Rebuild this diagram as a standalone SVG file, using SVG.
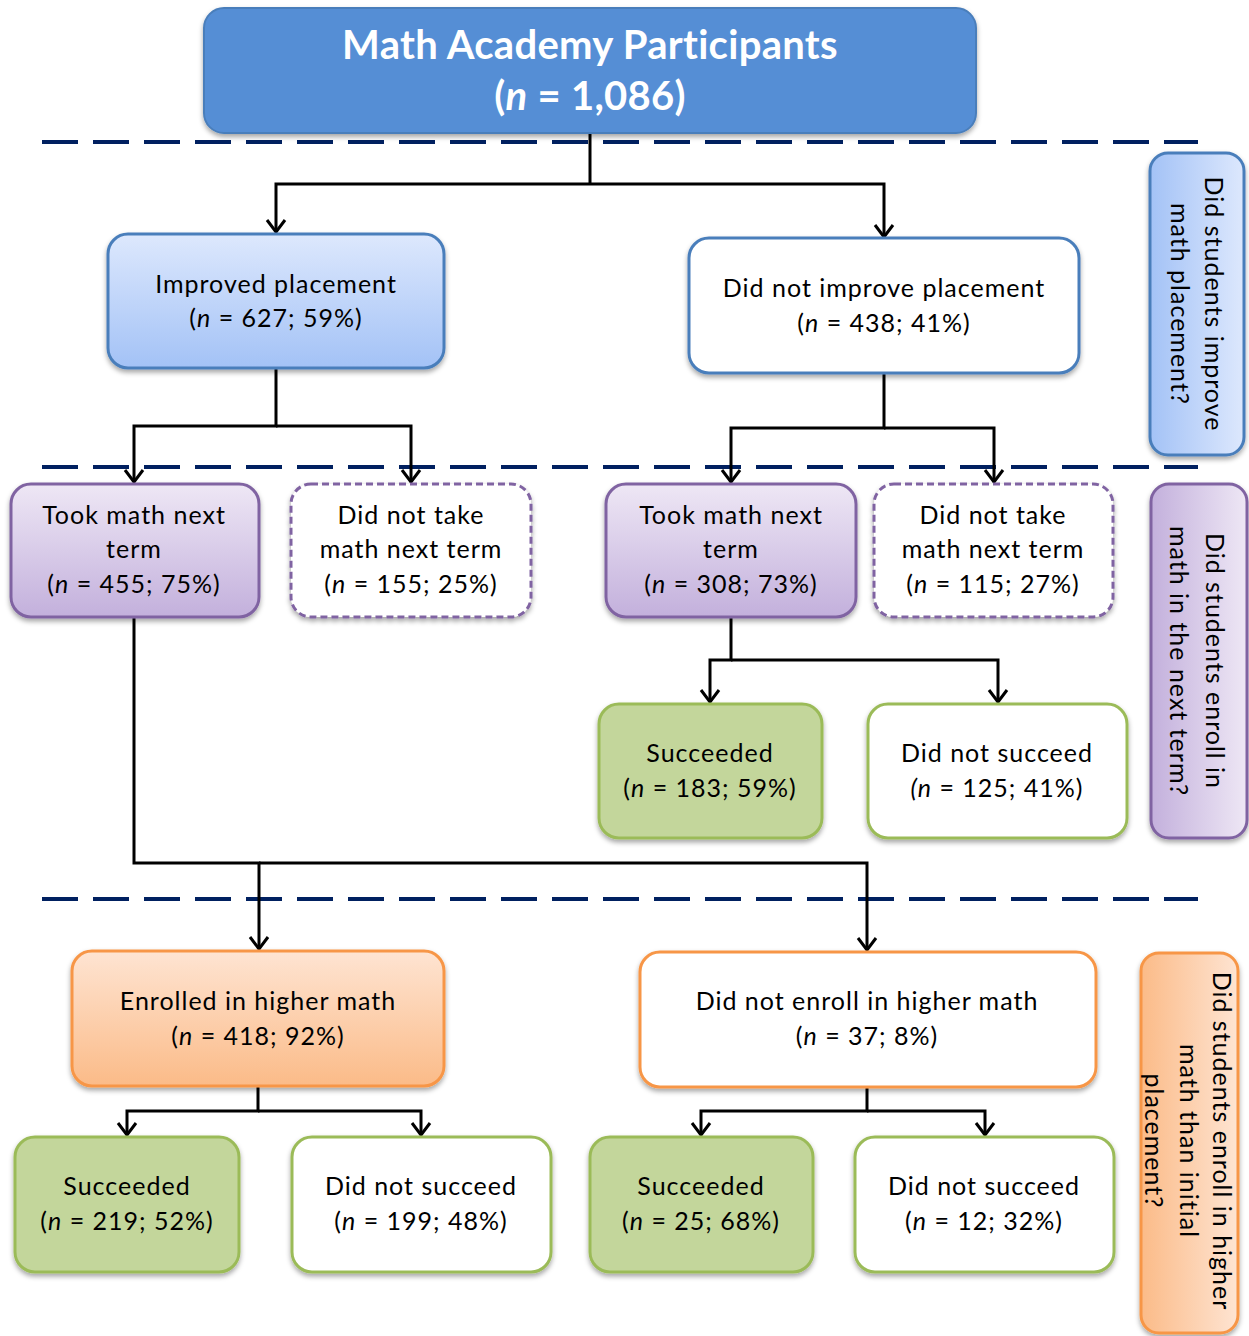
<svg xmlns="http://www.w3.org/2000/svg" width="1249" height="1336" viewBox="0 0 1249 1336">
<defs>
<style>
.t{font-family:Lato,"Open Sans","Liberation Sans",sans-serif;font-size:25px;letter-spacing:1px;fill:#000;text-anchor:middle}
.title{font-family:Lato,"Liberation Sans",sans-serif;font-size:40px;font-weight:bold;letter-spacing:0.3px;fill:#fff;text-anchor:middle}
.i{font-style:italic}
.conn{fill:none;stroke:#000;stroke-width:3}
.arr{marker-end:url(#ah)}
.div{stroke:#002060;stroke-width:4;stroke-dasharray:36 15}
.blue{stroke:#4a7ebb;stroke-width:3}
.purple{stroke:#8064a2;stroke-width:3}
.green{stroke:#9bbb59;stroke-width:3}
.orange{stroke:#f79646;stroke-width:3}
</style>
<linearGradient id="gBlue" x1="0" y1="0" x2="0" y2="1"><stop offset="0" stop-color="#dde8fd"/><stop offset="1" stop-color="#a3c2f6"/></linearGradient>
<linearGradient id="gPurple" x1="0" y1="0" x2="0" y2="1"><stop offset="0" stop-color="#eee7f5"/><stop offset="1" stop-color="#c3b0dc"/></linearGradient>
<linearGradient id="gOrange" x1="0" y1="0" x2="0" y2="1"><stop offset="0" stop-color="#fee4d2"/><stop offset="1" stop-color="#fbbb88"/></linearGradient>
<linearGradient id="hBlue" x1="1" y1="0" x2="0" y2="0"><stop offset="0" stop-color="#dde8fd"/><stop offset="1" stop-color="#a3c2f6"/></linearGradient>
<linearGradient id="hPurple" x1="1" y1="0" x2="0" y2="0"><stop offset="0" stop-color="#eee7f5"/><stop offset="1" stop-color="#c3b0dc"/></linearGradient>
<linearGradient id="hOrange" x1="1" y1="0" x2="0" y2="0"><stop offset="0" stop-color="#fee4d2"/><stop offset="1" stop-color="#fbbb88"/></linearGradient>
<filter id="sh" x="-10%" y="-10%" width="120%" height="130%"><feDropShadow dx="0" dy="3" stdDeviation="2.5" flood-color="#000" flood-opacity="0.35"/></filter>
<marker id="ah" markerWidth="30" markerHeight="30" viewBox="-15 -15 30 30" refX="0" refY="0" orient="auto" markerUnits="userSpaceOnUse"><path d="M-12,-9 L0,0 L-12,9" fill="none" stroke="#000" stroke-width="3"/></marker>
</defs>
<rect width="1249" height="1336" fill="#fff"/>

<g id="dividers">
<line class="div" x1="42" y1="142" x2="1198" y2="142"/>
<line class="div" x1="42" y1="467" x2="1198" y2="467"/>
<line class="div" x1="42" y1="899" x2="1198" y2="899"/>
</g>

<g id="connectors">
<path class="conn" d="M590,133 V184"/>
<path class="conn arr" d="M590,184 H276 V232"/>
<path class="conn arr" d="M590,184 H884 V237"/>
<path class="conn arr" d="M276,368 V426 H134 V482"/>
<path class="conn arr" d="M276,426 H411 V482"/>
<path class="conn arr" d="M884,373 V428 H731 V482"/>
<path class="conn arr" d="M884,428 H994 V482"/>
<path class="conn arr" d="M731,617 V660 H710 V702"/>
<path class="conn arr" d="M731,660 H998 V702"/>
<path class="conn arr" d="M134,617 V863 H259 V949"/>
<path class="conn arr" d="M259,863 H867 V950"/>
<path class="conn arr" d="M258,1086 V1111 H127 V1135"/>
<path class="conn arr" d="M258,1111 H421 V1135"/>
<path class="conn arr" d="M867,1087 V1111 H701 V1135"/>
<path class="conn arr" d="M867,1111 H985 V1135"/>
</g>

<g id="n-root">
<rect x="204" y="8" width="772" height="125" rx="20" fill="#558ed5" stroke="#4a7ebb" stroke-width="2" filter="url(#sh)"/>
<text class="title" x="590" y="59">Math Academy Participants</text>
<text class="title" x="590" y="110">(<tspan class="i">n</tspan> = 1,086)</text>
</g>

<g id="n-improved">
<rect class="blue" x="108" y="234" width="336" height="134" rx="20" fill="url(#gBlue)" filter="url(#sh)"/>
<text class="t" x="276" y="293">Improved placement</text>
<text class="t" x="276" y="327">(<tspan class="i">n</tspan> = 627; 59%)</text>
</g>

<g id="n-notimproved">
<rect class="blue" x="689" y="238" width="390" height="135" rx="20" fill="#fff" filter="url(#sh)"/>
<text class="t" x="884" y="297">Did not improve placement</text>
<text class="t" x="884" y="332">(<tspan class="i">n</tspan> = 438; 41%)</text>
</g>

<g id="n-took1">
<rect class="purple" x="11" y="484" width="248" height="133" rx="20" fill="url(#gPurple)" filter="url(#sh)"/>
<text class="t" x="134" y="524">Took math next</text>
<text class="t" x="134" y="558">term</text>
<text class="t" x="134" y="593">(<tspan class="i">n</tspan> = 455; 75%)</text>
</g>

<g id="n-nottake1">
<rect class="purple" x="291" y="484" width="240" height="133" rx="20" fill="#fff" stroke-dasharray="7 4" filter="url(#sh)"/>
<text class="t" x="411" y="524">Did not take</text>
<text class="t" x="411" y="558">math next term</text>
<text class="t" x="411" y="593">(<tspan class="i">n</tspan> = 155; 25%)</text>
</g>

<g id="n-took2">
<rect class="purple" x="606" y="484" width="250" height="133" rx="20" fill="url(#gPurple)" filter="url(#sh)"/>
<text class="t" x="731" y="524">Took math next</text>
<text class="t" x="731" y="558">term</text>
<text class="t" x="731" y="593">(<tspan class="i">n</tspan> = 308; 73%)</text>
</g>

<g id="n-nottake2">
<rect class="purple" x="874" y="484" width="239" height="133" rx="20" fill="#fff" stroke-dasharray="7 4" filter="url(#sh)"/>
<text class="t" x="993" y="524">Did not take</text>
<text class="t" x="993" y="558">math next term</text>
<text class="t" x="993" y="593">(<tspan class="i">n</tspan> = 115; 27%)</text>
</g>

<g id="n-succ1">
<rect class="green" x="599" y="704" width="223" height="134" rx="20" fill="#c3d69b" filter="url(#sh)"/>
<text class="t" x="710" y="762">Succeeded</text>
<text class="t" x="710" y="797">(<tspan class="i">n</tspan> = 183; 59%)</text>
</g>

<g id="n-notsucc1">
<rect class="green" x="868" y="704" width="259" height="134" rx="20" fill="#fff" filter="url(#sh)"/>
<text class="t" x="997" y="762">Did not succeed</text>
<text class="t" x="997" y="797"><tspan class="i">(n</tspan> = 125; 41%)</text>
</g>

<g id="n-enrolled">
<rect class="orange" x="72" y="951" width="372" height="135" rx="20" fill="url(#gOrange)" filter="url(#sh)"/>
<text class="t" x="258" y="1010">Enrolled in higher math</text>
<text class="t" x="258" y="1045">(<tspan class="i">n</tspan> = 418; 92%)</text>
</g>

<g id="n-notenrolled">
<rect class="orange" x="640" y="952" width="456" height="135" rx="20" fill="#fff" filter="url(#sh)"/>
<text class="t" x="867" y="1010">Did not enroll in higher math</text>
<text class="t" x="867" y="1045">(<tspan class="i">n</tspan> = 37; 8%)</text>
</g>

<g id="n-succ2">
<rect class="green" x="15" y="1137" width="224" height="135" rx="20" fill="#c3d69b" filter="url(#sh)"/>
<text class="t" x="127" y="1195">Succeeded</text>
<text class="t" x="127" y="1230">(<tspan class="i">n</tspan> = 219; 52%)</text>
</g>

<g id="n-notsucc2">
<rect class="green" x="292" y="1137" width="259" height="135" rx="20" fill="#fff" filter="url(#sh)"/>
<text class="t" x="421" y="1195">Did not succeed</text>
<text class="t" x="421" y="1230">(<tspan class="i">n</tspan> = 199; 48%)</text>
</g>

<g id="n-succ3">
<rect class="green" x="590" y="1137" width="223" height="135" rx="20" fill="#c3d69b" filter="url(#sh)"/>
<text class="t" x="701" y="1195">Succeeded</text>
<text class="t" x="701" y="1230">(<tspan class="i">n</tspan> = 25; 68%)</text>
</g>

<g id="n-notsucc3">
<rect class="green" x="855" y="1137" width="259" height="135" rx="20" fill="#fff" filter="url(#sh)"/>
<text class="t" x="984" y="1195">Did not succeed</text>
<text class="t" x="984" y="1230">(<tspan class="i">n</tspan> = 12; 32%)</text>
</g>

<g id="q-placement">
<rect class="blue" x="1150" y="153" width="94" height="302" rx="18" fill="url(#hBlue)" filter="url(#sh)"/>
<g transform="translate(1188,304) rotate(90)">
<text class="t" x="0" y="-17">Did students improve</text>
<text class="t" x="0" y="17">math placement?</text>
</g>
</g>

<g id="q-enroll">
<rect class="purple" x="1151" y="484" width="96" height="354" rx="18" fill="url(#hPurple)" filter="url(#sh)"/>
<g transform="translate(1188,661) rotate(90)">
<text class="t" x="0" y="-18">Did students enroll in</text>
<text class="t" x="0" y="18">math in the next term?</text>
</g>
</g>

<g id="q-higher">
<rect class="orange" x="1141" y="953" width="97" height="380" rx="18" fill="url(#hOrange)" filter="url(#sh)"/>
<g transform="translate(1180,1141) rotate(90)">
<text class="t" x="0" y="-33">Did students enroll in higher</text>
<text class="t" x="0" y="0">math than initial</text>
<text class="t" x="0" y="35">placement?</text>
</g>
</g>
</svg>
